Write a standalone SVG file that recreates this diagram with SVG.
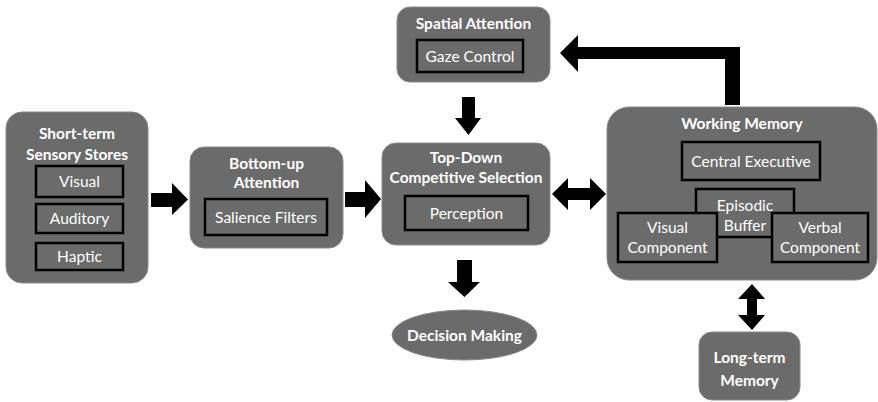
<svg xmlns="http://www.w3.org/2000/svg" width="878" height="402" viewBox="0 0 878 402">
<style>
.box{fill:#6b6b6b;stroke:#8a8a8a;stroke-width:1}
.in{fill:#6b6b6b;stroke:#000;stroke-width:2.5}
.t{font-family:Lato,"Open Sans",sans-serif;font-weight:bold;font-size:15.5px;fill:#fff;text-anchor:middle}
.s{font-family:Lato,"Open Sans",sans-serif;font-size:15.5px;fill:#fff;text-anchor:middle}
.arr{fill:#000}
</style>
<rect width="878" height="402" fill="#fff"/>
<g id="sensory">
<rect class="box" x="6" y="112" width="142" height="171" rx="16"/>
<text class="t" x="77" y="138.5">Short-term</text>
<text class="t" x="77" y="159.5">Sensory Stores</text>
<rect class="in" x="36" y="166" width="87" height="31"/>
<text class="s" x="79.5" y="187">Visual</text>
<rect class="in" x="36" y="204" width="87" height="29"/>
<text class="s" x="79.5" y="224">Auditory</text>
<rect class="in" x="36" y="243" width="87" height="27"/>
<text class="s" x="79.5" y="262">Haptic</text>
</g>
<g id="bottomup">
<rect class="box" x="190" y="147" width="153" height="101" rx="14"/>
<text class="t" x="266.5" y="168.5">Bottom-up</text>
<text class="t" x="266.5" y="187.5">Attention</text>
<rect class="in" x="205" y="199" width="122" height="36"/>
<text class="s" x="266" y="222.5">Salience Filters</text>
</g>
<g id="topdown">
<rect class="box" x="382" y="143" width="168" height="102" rx="14"/>
<text class="t" x="466" y="162.5">Top-Down</text>
<text class="t" x="466" y="182.5">Competitive Selection</text>
<rect class="in" x="405" y="196" width="123" height="34"/>
<text class="s" x="466.5" y="218.5">Perception</text>
</g>
<g id="spatial">
<rect class="box" x="397" y="7" width="153" height="75" rx="13"/>
<text class="t" x="473.5" y="28.5">Spatial Attention</text>
<rect class="in" x="417" y="40" width="106" height="32"/>
<text class="s" x="470" y="61.5">Gaze Control</text>
</g>
<g id="working">
<rect class="box" x="607" y="107" width="270" height="173" rx="22"/>
<text class="t" x="742" y="128.5">Working Memory</text>
<rect class="in" x="682" y="142" width="138" height="38"/>
<text class="s" x="751" y="166.5">Central Executive</text>
<rect class="in" x="696" y="189" width="98" height="48"/>
<text class="s" x="745" y="210.5">Episodic</text>
<text class="s" x="745" y="230.5">Buffer</text>
<rect class="in" x="618" y="213" width="99" height="49"/>
<text class="s" x="667.5" y="232.5">Visual</text>
<text class="s" x="667.5" y="252.5">Component</text>
<rect class="in" x="772" y="213" width="96" height="49"/>
<text class="s" x="820" y="232.5">Verbal</text>
<text class="s" x="820" y="252.5">Component</text>
</g>
<g id="decision">
<ellipse class="box" cx="464.5" cy="335" rx="72.5" ry="25"/>
<text class="t" x="464.5" y="340.5">Decision Making</text>
</g>
<g id="longterm">
<rect class="box" x="699" y="332" width="101" height="68" rx="13"/>
<text class="t" x="749.5" y="362.5">Long-term</text>
<text class="t" x="749.5" y="385.5">Memory</text>
</g>
<g id="connectors">
<polygon class="arr" points="151,193 172,193 172,183 188,199.5 172,215 172,207 151,207"/>
<polygon class="arr" points="345,192 365,192 365,180 381,199 365,218 365,207 345,207"/>
<polygon class="arr" points="462,97 475,97 475,118 481,118 468.5,135 455,118 462,118"/>
<polygon class="arr" points="457,260 472,260 472,282 480,282 464.5,297 448,282 457,282"/>
<polygon class="arr" points="552,194 568,178 568,188 590,188 590,178 606,194 590,210 590,200 568,200 568,210"/>
<polygon class="arr" points="740,105 725,105 725,59 578,59 578,72 560,53 578,35 578,47 740,47"/>
<polygon class="arr" points="752,284 765,299 757,299 757,315 765,315 752,330 738,315 747,315 747,299 738,299"/>
</g>
</svg>
